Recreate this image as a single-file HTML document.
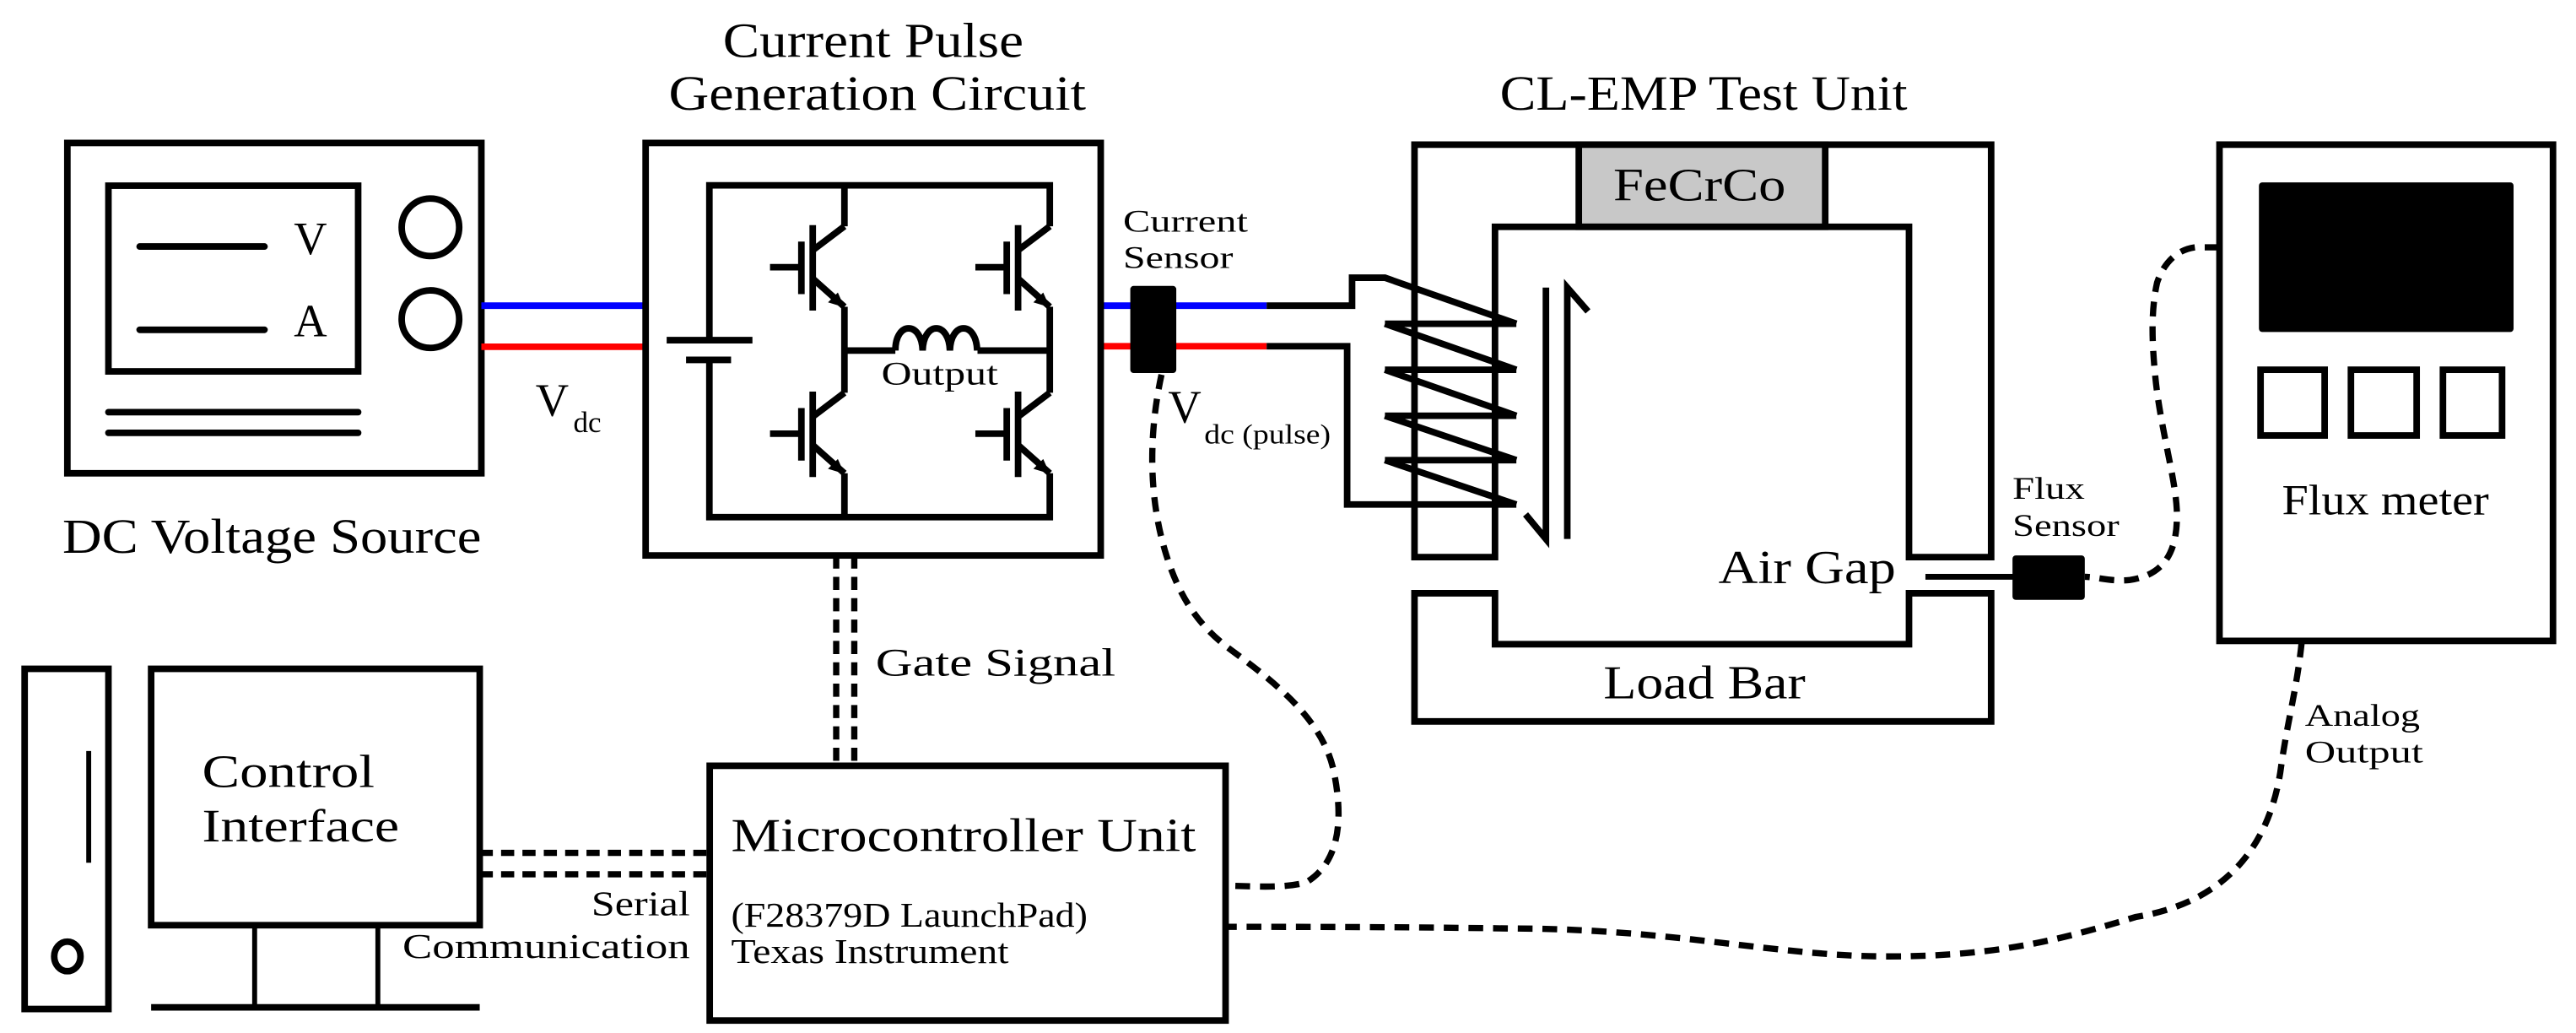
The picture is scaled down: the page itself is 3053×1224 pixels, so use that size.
<!DOCTYPE html>
<html><head><meta charset="utf-8"><style>
html,body{margin:0;padding:0;background:#fff;}
svg{display:block;}
svg text{font-family:"Liberation Serif","DejaVu Serif",serif;fill:#000;}
</style></head><body>
<svg width="3053" height="1224" viewBox="0 0 1568 628.6" preserveAspectRatio="none" xmlns="http://www.w3.org/2000/svg" font-family="'Liberation Serif', 'DejaVu Serif', serif">
<g fill="none" stroke="#000" stroke-width="4" stroke-linejoin="miter">
<rect x="41" y="87" width="252" height="201"/>
<rect x="66" y="113" width="152" height="113"/>
<line x1="85" y1="150" x2="161" y2="150" stroke-linecap="round"/>
<line x1="85" y1="200.7" x2="161" y2="200.7" stroke-linecap="round"/>
<circle cx="262" cy="138.3" r="17.5"/>
<circle cx="262" cy="194.2" r="17.5"/>
<line x1="66" y1="250.8" x2="218" y2="250.8" stroke-linecap="round"/>
<line x1="66" y1="263.4" x2="218" y2="263.4" stroke-linecap="round"/>
</g>
<line x1="293" y1="186" x2="393" y2="186" stroke="#0000ff" stroke-width="4"/>
<line x1="293" y1="211" x2="393" y2="211" stroke="#ff0000" stroke-width="4"/>
<line x1="670" y1="186" x2="771" y2="186" stroke="#0000ff" stroke-width="4"/>
<line x1="670" y1="210.7" x2="771" y2="210.7" stroke="#ff0000" stroke-width="4"/>

<g fill="none" stroke="#000" stroke-width="4">
<rect x="393" y="87" width="277" height="251"/>
<polyline points="431.8,207 431.8,112.8 639,112.8 639,137.7"/>
<polyline points="431.8,219 431.8,314.7 639,314.7 639,288"/>
<line x1="514" y1="112.8" x2="514" y2="137.7"/>
<line x1="514" y1="186.7" x2="514" y2="239"/>
<line x1="514" y1="288" x2="514" y2="314.7"/>
<line x1="639" y1="186.7" x2="639" y2="239"/>
<line x1="405.8" y1="207" x2="458" y2="207"/>
<line x1="417.6" y1="219" x2="445" y2="219"/>
<path d="M514 213.3 H545 M545 213.3 c0 -18 16 -18 16.6 0 c0.6 -18 16 -18 16.6 0 c0.6 -18 16 -18 16.6 0 M595 213.3 H639"/>
<g id="ig">
<line x1="468.7" y1="162.6" x2="487.8" y2="162.6"/>
<line x1="487.8" y1="147" x2="487.8" y2="179"/>
<line x1="494.7" y1="137" x2="494.7" y2="189"/>
<polyline points="514,137.7 494.7,152.3"/>
<polyline points="494.7,169.5 514,186.7"/>
</g>
<use href="#ig" transform="translate(0,101.3)"/>
<use href="#ig" transform="translate(125,0)"/>
<use href="#ig" transform="translate(125,101.3)"/>
</g>
<g fill="#000">
<polygon points="514,187 504,184 510,178"/>
<polygon points="514,288.3 504,285.3 510,279.3"/>
<polygon points="639,187 629,184 635,178"/>
<polygon points="639,288.3 629,285.3 635,279.3"/>
</g>

<g fill="none" stroke="#000" stroke-width="4">
<polyline points="771,186 823,186 823,169 843,169 923,197"/>
<polyline points="771,210.7 820,210.7 820,307 923,307"/>
<path d="M861 88 H1212 V339 H1162 V138 H910 V339 H861 Z"/>
<path d="M861 361 H910 V392 H1162 V361 H1212 V439 H861 Z"/>
<line x1="843" y1="197" x2="923" y2="197"/>
<line x1="843" y1="225" x2="923" y2="225"/>
<line x1="843" y1="253" x2="923" y2="253"/>
<line x1="843" y1="280" x2="923" y2="280"/>
<line x1="843" y1="197" x2="923" y2="225"/>
<line x1="843" y1="225" x2="923" y2="253"/>
<line x1="843" y1="253" x2="923" y2="280"/>
<line x1="843" y1="280" x2="923" y2="307"/>
<polyline points="941,175 941,328 928.6,313"/>
<polyline points="954,328 954,175 966.6,189.5"/>
<line x1="1172" y1="351" x2="1226" y2="351" stroke-width="3.5"/>
<rect x="1351" y="88" width="203" height="302"/>
<rect x="1376" y="225" width="39" height="40"/>
<rect x="1431" y="225" width="40" height="40"/>
<rect x="1487" y="225" width="36" height="40"/>
<rect x="15" y="407" width="51" height="207"/>
<rect x="92" y="407" width="200" height="156"/>
<line x1="92" y1="613" x2="292" y2="613"/>
<line x1="155" y1="563" x2="155" y2="613" stroke-width="3"/>
<line x1="230" y1="563" x2="230" y2="613" stroke-width="3"/>
<line x1="54" y1="457" x2="54" y2="525" stroke-width="3"/>
<ellipse cx="41" cy="582" rx="8" ry="9" stroke-width="4"/>
<rect x="432" y="466" width="314" height="155"/>
</g>
<rect x="961" y="88" width="150" height="50" fill="#c8c8c8" stroke="#000" stroke-width="4"/>
<rect x="688" y="174" width="28" height="53" rx="2" fill="#000"/>
<rect x="1225" y="338" width="44" height="27" rx="2" fill="#000"/>
<rect x="1375" y="111" width="155" height="91" rx="2" fill="#000"/>

<g fill="none" stroke="#000" stroke-width="3.8" stroke-dasharray="9 6">
<line x1="509" y1="338" x2="509" y2="466" stroke-dasharray="8 5"/>
<line x1="520" y1="338" x2="520" y2="466" stroke-dasharray="8 5"/>
<line x1="292" y1="519" x2="432" y2="519" stroke-dasharray="8 5"/>
<line x1="292" y1="532" x2="432" y2="532" stroke-dasharray="8 5"/>
<path d="M707 228 C700 260 698 300 710 338 C720 370 735 385 750 396 C780 418 806 440 812 470 C818 500 815 525 795 537 C780 541 760 539 746 539"/>
<path d="M1401 391 C1398 420 1392 440 1388 470 C1380 520 1350 550 1300 558 C1260 570 1220 582 1150 582 C1080 582 1020 565 919 565 C850 564 790 564 746 564"/>
<path d="M1351 150.5 H1336 C1325 152 1317 160 1313 172 C1309 190 1310 210 1312 230 C1315 260 1324 290 1325 310 C1326 335 1318 350 1296 353 C1285 354 1276 351 1269 351"/>
</g>

<g font-family="'Liberation Serif', 'DejaVu Serif', serif" fill="#000">
<text x="189" y="154.5" font-size="28" text-anchor="middle">V</text>
<text x="189" y="204.7" font-size="28" text-anchor="middle">A</text>
<text x="38" y="336.5" font-size="30" textLength="255" lengthAdjust="spacingAndGlyphs">DC Voltage Source</text>
<text x="326" y="253" font-size="28">V</text>
<text x="349" y="263" font-size="18">dc</text>
<text x="440" y="34.7" font-size="30" textLength="183" lengthAdjust="spacingAndGlyphs">Current Pulse</text>
<text x="407" y="66.8" font-size="30" textLength="254" lengthAdjust="spacingAndGlyphs">Generation Circuit</text>
<text x="913" y="66.8" font-size="30" textLength="248" lengthAdjust="spacingAndGlyphs">CL-EMP Test Unit</text>
<text x="536.5" y="234" font-size="20" textLength="71" lengthAdjust="spacingAndGlyphs">Output</text>
<text x="683.6" y="141" font-size="19" textLength="76" lengthAdjust="spacingAndGlyphs">Current</text>
<text x="683.6" y="163" font-size="19" textLength="67" lengthAdjust="spacingAndGlyphs">Sensor</text>
<text x="711" y="257" font-size="28">V</text>
<text x="733" y="270" font-size="17" textLength="77" lengthAdjust="spacingAndGlyphs">dc (pulse)</text>
<text x="982" y="122" font-size="28" textLength="105" lengthAdjust="spacingAndGlyphs">FeCrCo</text>
<text x="1046" y="355" font-size="29" textLength="108" lengthAdjust="spacingAndGlyphs">Air Gap</text>
<text x="976" y="425" font-size="29" textLength="123" lengthAdjust="spacingAndGlyphs">Load Bar</text>
<text x="1225" y="303.6" font-size="19" textLength="44" lengthAdjust="spacingAndGlyphs">Flux</text>
<text x="1225" y="326" font-size="19" textLength="65" lengthAdjust="spacingAndGlyphs">Sensor</text>
<text x="1389" y="313" font-size="26" textLength="126" lengthAdjust="spacingAndGlyphs">Flux meter</text>
<text x="1403" y="441.7" font-size="19" textLength="70" lengthAdjust="spacingAndGlyphs">Analog</text>
<text x="1403" y="464" font-size="19" textLength="72" lengthAdjust="spacingAndGlyphs">Output</text>
<text x="533" y="411" font-size="24" textLength="146" lengthAdjust="spacingAndGlyphs">Gate Signal</text>
<text x="123" y="479" font-size="28" textLength="105" lengthAdjust="spacingAndGlyphs">Control</text>
<text x="123" y="512" font-size="28" textLength="120" lengthAdjust="spacingAndGlyphs">Interface</text>
<text x="360" y="557" font-size="21" textLength="60" lengthAdjust="spacingAndGlyphs">Serial</text>
<text x="245" y="583" font-size="21" textLength="175" lengthAdjust="spacingAndGlyphs">Communication</text>
<text x="445" y="518" font-size="29" textLength="283" lengthAdjust="spacingAndGlyphs">Microcontroller Unit</text>
<text x="445" y="564" font-size="21" textLength="217" lengthAdjust="spacingAndGlyphs">(F28379D LaunchPad)</text>
<text x="445" y="586" font-size="21" textLength="169" lengthAdjust="spacingAndGlyphs">Texas Instrument</text>
</g>
</svg>
</body></html>
